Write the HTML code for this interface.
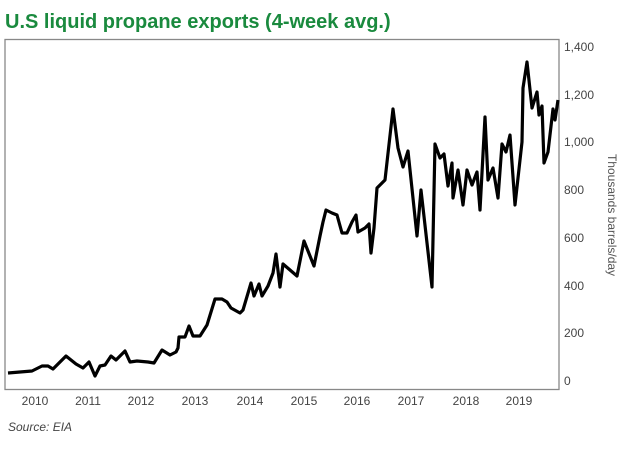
<!DOCTYPE html>
<html><head><meta charset="utf-8"><style>
body{margin:0;background:#fff;}
svg{display:block;font-family:"Liberation Sans",sans-serif;}
</style></head><body>
<svg width="619" height="452" viewBox="0 0 619 452">
<text x="5" y="28" font-size="20" font-weight="bold" fill="#1a8a3e">U.S liquid propane exports (4-week avg.)</text>
<rect x="5" y="39.5" width="554" height="350" fill="none" stroke="#888" stroke-width="1.3"/>
<g font-size="12" fill="#444">
<text x="564" y="51">1,400</text>
<text x="564" y="99">1,200</text>
<text x="564" y="146">1,000</text>
<text x="564" y="194">800</text>
<text x="564" y="242">600</text>
<text x="564" y="290">400</text>
<text x="564" y="337">200</text>
<text x="564" y="385">0</text>
</g>
<g font-size="12" fill="#444" text-anchor="middle">
<text x="35" y="405">2010</text><text x="88" y="405">2011</text><text x="141" y="405">2012</text>
<text x="195" y="405">2013</text><text x="250" y="405">2014</text><text x="304" y="405">2015</text>
<text x="357" y="405">2016</text><text x="411" y="405">2017</text><text x="466" y="405">2018</text>
<text x="519" y="405">2019</text>
</g>
<text transform="translate(608,215) rotate(90)" font-size="12" fill="#555" text-anchor="middle">Thousands barrels/day</text>
<text x="8" y="431" font-size="12" font-style="italic" fill="#444">Source: EIA</text>
<polyline fill="none" stroke="#000" stroke-width="3.2" stroke-linejoin="round" points="8,373 32,371 42,366 48,366 53,369 66,356 76,364 83,368 89,362 95,376 100,366 105,365 111,356 116,360 125,351 130,362 137,361 148,362 154,363 162,350 170,355 176,352 178,348 179,337 185,337 189,326 193,336 200,336 207,325 215,299 222,299 227,302 231,308 240,313 243,310 251,283 254,296 259,284 262,296 268,286 273,273 276,254 280,287 283,264 290,270 297,276 304,241 308,251 314,266 320,236 323,222 326,210 332,213 337,215 342,233 347,233 352,222 356,215 358,232 365,228 369,224 371,253 374,228 377,188 385,180 393,109 398,148 403,167 408,151 417,236 421,190 432,287 435,144 440,158 444,154 448,186 452,163 453,198 458,170 463,205 467,170 472,185 477,172 480,210 485,117 488,180 493,168 498,198 502,144 506,152 510,135 515,205 522,142 523,88 527,62 532,108 537,92 539,115 542,106 544,163 548,152 553,109 555,120 558,100"/>
</svg>
</body></html>
